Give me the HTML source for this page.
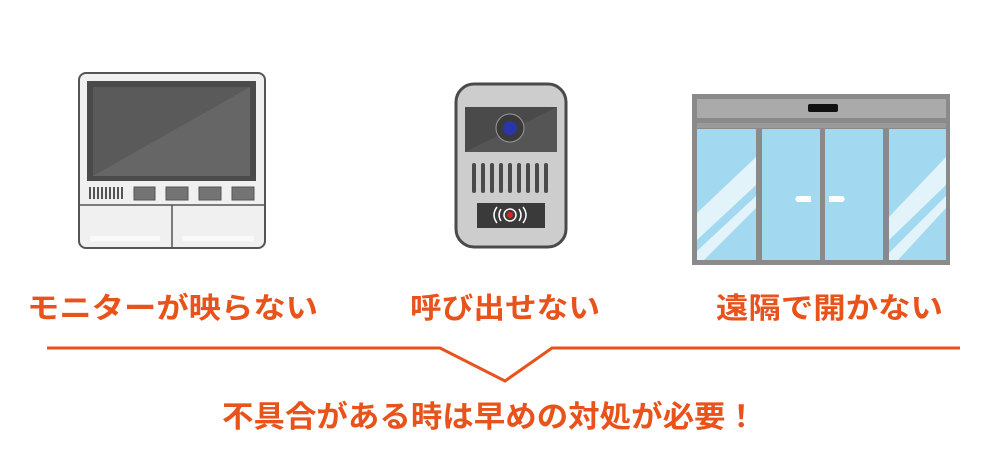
<!DOCTYPE html>
<html><head><meta charset="utf-8"><style>
html,body{margin:0;padding:0;background:#fff;width:1000px;height:450px;overflow:hidden}
text{font-family:"Liberation Sans","Noto Sans CJK JP",sans-serif;font-weight:bold;fill:#e8531c}
</style></head><body>
<svg width="1000" height="450" viewBox="0 0 1000 450" xmlns="http://www.w3.org/2000/svg">
<!-- monitor -->
<rect x="79" y="73" width="186" height="175" rx="7" fill="#f0f0f0" stroke="#555" stroke-width="2"/>
<rect x="87" y="81" width="169" height="100" fill="#4a4a4a"/>
<rect x="93" y="87" width="157" height="89" fill="#5a5a5a"/>
<polygon points="250,87 250,176 93,176" fill="#666"/>
<g fill="#555"><rect x="89" y="187" width="2" height="12"/><rect x="93" y="187" width="2" height="12"/><rect x="97" y="187" width="2" height="12"/><rect x="101" y="187" width="2" height="12"/><rect x="105" y="187" width="2" height="12"/><rect x="109" y="187" width="2" height="12"/><rect x="113" y="187" width="2" height="12"/><rect x="117" y="187" width="2" height="12"/><rect x="121" y="187" width="2" height="12"/></g>
<g fill="#747474" stroke="#555" stroke-width="1"><rect x="134" y="187" width="21" height="13"/><rect x="166" y="187" width="22" height="13"/><rect x="199" y="187" width="22" height="13"/><rect x="232" y="187" width="22" height="13"/></g>
<line x1="79" y1="205" x2="265" y2="205" stroke="#555" stroke-width="1.5"/>
<line x1="172" y1="205" x2="172" y2="248" stroke="#555" stroke-width="1.5"/>
<rect x="90" y="236" width="70" height="5" rx="2" fill="#fafafa"/>
<rect x="182" y="236" width="72" height="5" rx="2" fill="#fafafa"/>
<!-- intercom -->
<rect x="456" y="84" width="110" height="163" rx="18" fill="#cdcdcd" stroke="#4a4a4a" stroke-width="3"/>
<rect x="465" y="107" width="92" height="45" fill="#4a4a4a"/>
<polygon points="557,107 557,152 465,152" fill="#555"/>
<circle cx="510" cy="128" r="14" fill="#3a3a3a" stroke="#999" stroke-width="1"/>
<circle cx="510" cy="128" r="7" fill="#2a36a8"/>
<g fill="#4a4a4a">
<rect x="472" y="163" width="4" height="30" rx="2"/><rect x="481" y="163" width="4" height="30" rx="2"/><rect x="490" y="163" width="4" height="30" rx="2"/><rect x="499" y="163" width="4" height="30" rx="2"/><rect x="508" y="163" width="4" height="30" rx="2"/><rect x="517" y="163" width="4" height="30" rx="2"/><rect x="526" y="163" width="4" height="30" rx="2"/><rect x="535" y="163" width="4" height="30" rx="2"/><rect x="544" y="163" width="4" height="30" rx="2"/>
</g>
<rect x="477" y="203" width="68" height="25" fill="#3a3a3a"/>
<circle cx="510" cy="215" r="6" fill="none" stroke="#fff" stroke-width="1.5"/>
<circle cx="510" cy="215" r="3" fill="#d22"/>
<path d="M501 209 q-4 6 0 12 M519 209 q4 6 0 12 M497 207 q-6 8 0 16 M523 207 q6 8 0 16" stroke="#fff" stroke-width="1.5" fill="none"/>
<!-- door -->
<rect x="692" y="94" width="258" height="171" fill="#8a8a8a"/>
<rect x="697" y="99" width="249" height="19" fill="#aaa"/>
<rect x="808" y="104" width="30" height="8" rx="2" fill="#111"/>
<rect x="697" y="123" width="249" height="5" fill="#9a9a9a"/>
<g fill="#a2d9f0">
<rect x="697" y="129" width="59" height="131"/><rect x="762" y="129" width="58" height="131"/><rect x="825" y="129" width="58" height="131"/><rect x="889" y="129" width="57" height="131"/>
</g>
<g fill="#e3f3fa">
<polygon points="697,213 756,157 756,185 697,240"/><polygon points="697,251 756,196 756,208 704,260 697,260"/>
<polygon points="889,217 946,157 946,185 889,240"/><polygon points="889,253 946,196 946,208 898,260 889,260"/>
</g>
<path d="M797 196 h14 v6 h-14 l-2 -3z" fill="#fff"/>
<path d="M829 196 h14 l2 3 -2 3 h-14z" fill="#fff"/>
<!-- labels -->
<text x="27" y="318" font-size="29" textLength="291" lengthAdjust="spacingAndGlyphs">モニターが映らない</text>
<text x="410" y="318" font-size="29" textLength="190" lengthAdjust="spacingAndGlyphs">呼び出せない</text>
<text x="716" y="318" font-size="29" textLength="227" lengthAdjust="spacingAndGlyphs">遠隔で開かない</text>
<polyline points="47,348 440,348 505,381 552,348 960,348" fill="none" stroke="#e8531c" stroke-width="3"/>
<text x="222" y="427" font-size="30" textLength="535" lengthAdjust="spacingAndGlyphs">不具合がある時は早めの対処が必要！</text>
</svg>
</body></html>
